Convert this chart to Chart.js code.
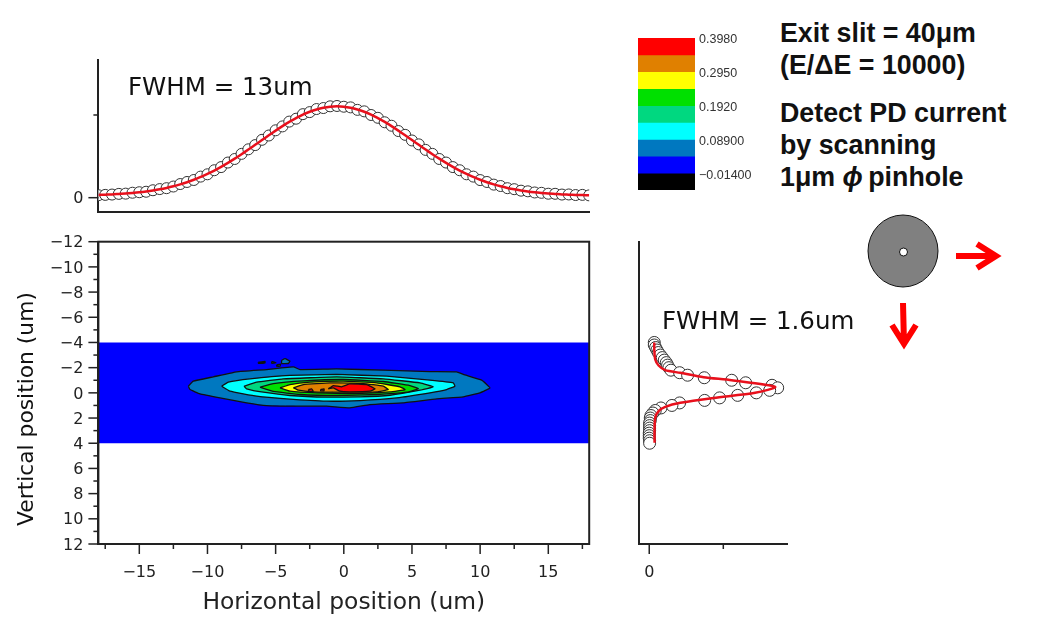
<!DOCTYPE html>
<html>
<head>
<meta charset="utf-8">
<script src="https://cdn.jsdelivr.net/npm/chart.js@4"></script>
<style>
  html, body { margin: 0; padding: 0; background: #fff; }
  body { width: 1040px; height: 635px; position: relative; overflow: hidden; }
  canvas { position: absolute; }
  .note { position: absolute; font-family: "Liberation Sans", Arial, sans-serif; color: #111; white-space: nowrap; }
  .big { font-size: 26.8px; font-weight: bold; line-height: 32px; }
  .fwhm { font-family: "DejaVu Sans", sans-serif; font-size: 24.5px; }
  #yTitle { left: 25px; top: 408.5px; font-family: "DejaVu Sans", sans-serif; font-size: 21.8px;
            transform: translate(-50%, -50%) rotate(-90deg); }
  svg { position: absolute; left: 0; top: 0; }
</style>
</head>
<body>
<canvas id="profileH" width="600" height="170" style="left:0;top:50px"></canvas>
<canvas id="contour" width="600" height="415" style="left:0;top:220px"></canvas>
<canvas id="profileV" width="180" height="360" style="left:620px;top:230px"></canvas>
<canvas id="colorBar" width="130" height="170" style="left:630px;top:30px"></canvas>

<div class="note fwhm" style="left:128px;top:72px">FWHM = 13um</div>
<div class="note fwhm" style="left:662px;top:306px">FWHM = 1.6um</div>
<div class="note" id="yTitle">Vertical position (um)</div>
<div class="note big" style="left:780px;top:17px">Exit slit = 40μm</div>
<div class="note big" style="left:780px;top:49px">(E/ΔE = 10000)</div>
<div class="note big" style="left:780px;top:97px">Detect PD current</div>
<div class="note big" style="left:780px;top:129px">by scanning</div>
<div class="note big" style="left:780px;top:161px">1μm <i>ϕ</i>&#8201;pinhole</div>

<!-- pinhole sketch -->
<svg width="1040" height="635">
  <ellipse cx="903" cy="251" rx="35" ry="36" fill="#808080" stroke="#111" stroke-width="1"/>
  <circle cx="903.5" cy="252" r="4" fill="#fff" stroke="#111" stroke-width="1"/>
  <path d="M956 256H996M977 244L996 256L977 268" fill="none" stroke="#f00" stroke-width="6" stroke-linejoin="miter"/>
  <path d="M903 303L904 344M892 325L904 344L916 325" fill="none" stroke="#f00" stroke-width="6" stroke-linejoin="miter"/>
</svg>

<script>
// ===== Data =====
const horizontalPos = [-18, -17.5, -17, -16.5, -16, -15.5, -15, -14.5, -14, -13.5, -13, -12.5, -12, -11.5, -11, -10.5, -10, -9.5, -9, -8.5, -8, -7.5, -7, -6.5, -6, -5.5, -5, -4.5, -4, -3.5, -3, -2.5, -2, -1.5, -1, -0.5, 0, 0.5, 1, 1.5, 2, 2.5, 3, 3.5, 4, 4.5, 5, 5.5, 6, 6.5, 7, 7.5, 8, 8.5, 9, 9.5, 10, 10.5, 11, 11.5, 12, 12.5, 13, 13.5, 14, 14.5, 15, 15.5, 16, 16.5, 17, 17.5, 18];
const horizontalMeasured = [0.030, 0.034, 0.038, 0.046, 0.049, 0.060, 0.066, 0.072, 0.090, 0.104, 0.115, 0.135, 0.165, 0.190, 0.214, 0.255, 0.283, 0.332, 0.370, 0.425, 0.468, 0.530, 0.585, 0.636, 0.700, 0.752, 0.815, 0.862, 0.920, 0.955, 1.010, 1.035, 1.072, 1.084, 1.105, 1.109, 1.100, 1.092, 1.062, 1.044, 1.000, 0.966, 0.912, 0.870, 0.806, 0.760, 0.692, 0.645, 0.578, 0.530, 0.468, 0.425, 0.370, 0.332, 0.283, 0.255, 0.213, 0.190, 0.158, 0.141, 0.115, 0.103, 0.085, 0.077, 0.063, 0.059, 0.048, 0.047, 0.038, 0.039, 0.032, 0.034, 0.028];
const horizontalFit = [0.034, 0.037, 0.040, 0.045, 0.050, 0.057, 0.065, 0.075, 0.087, 0.101, 0.118, 0.138, 0.161, 0.187, 0.217, 0.251, 0.287, 0.328, 0.373, 0.421, 0.472, 0.526, 0.582, 0.640, 0.697, 0.755, 0.811, 0.865, 0.916, 0.962, 1.005, 1.039, 1.067, 1.088, 1.101, 1.105, 1.101, 1.088, 1.067, 1.039, 1.005, 0.962, 0.916, 0.865, 0.811, 0.755, 0.697, 0.640, 0.582, 0.526, 0.472, 0.421, 0.373, 0.328, 0.287, 0.251, 0.217, 0.187, 0.161, 0.138, 0.118, 0.101, 0.087, 0.075, 0.065, 0.057, 0.050, 0.045, 0.040, 0.037, 0.034, 0.032, 0.030];

const verticalPos = [-4, -3.8, -3.6, -3.4, -3.2, -3, -2.8, -2.6, -2.4, -2.2, -2, -1.8, -1.6, -1.4, -1.2, -1, -0.8, -0.6, -0.4, -0.2, 0, 0.2, 0.4, 0.6, 0.8, 1, 1.2, 1.4, 1.6, 1.8, 2, 2.2, 2.4, 2.6, 2.8, 3, 3.2, 3.4, 3.6, 3.8, 4];
const verticalMeasured = [0.068, 0.068, 0.086, 0.104, 0.122, 0.149, 0.176, 0.203, 0.230, 0.248, 0.266, 0.293, 0.410, 0.518, 0.743, 1.113, 1.302, 1.658, 1.734, 1.626, 1.446, 1.194, 0.950, 0.748, 0.410, 0.306, 0.158, 0.081, 0.050, 0.023, 0.014, 0.014, 0.005, 0.005, 0.005, 0.005, 0, 0, 0, 0.005, 0.005];
const verticalFitPos = [-4, -3.44, -2.65, -2.17, -1.8, -1.59, -1.24, -1, -0.48, 0, 0.4, 0.79, 1.11, 1.45, 1.98, 2.91, 3.97];
const verticalFit = [0.068, 0.068, 0.081, 0.126, 0.216, 0.419, 0.734, 1.113, 1.7, 1.43, 0.87, 0.42, 0.216, 0.126, 0.081, 0.072, 0.072];

// contour outlines as [x, y] in um, lowest level first
const band = [[-18, -4], [18, -4], [18, 4], [-18, 4]];
const steelEdge = [[-11.4, -0.53], [-11.04, -0.93], [-9.57, -1.27], [-7.86, -1.67], [-5.66, -1.85], [-3.7, -2.06], [-3.21, -1.85], [-0.53, -1.9], [2.9, -1.8], [6.32, -1.69], [8.28, -1.67], [8.77, -1.46], [10.11, -1.01], [10.72, -0.4], [9.99, 0], [8.77, 0.32], [6.81, 0.48], [4.36, 0.79], [1.92, 0.93], [0.45, 1.19], [-1.26, 1.06], [-3.46, 1.06], [-5.66, 1.01], [-7.13, 0.79], [-9.08, 0.4], [-10.55, 0.08], [-11.28, -0.26]];
const steelIsland1 = [[-4.56, -2.59], [-4.31, -2.72], [-3.95, -2.51], [-4.07, -2.33], [-4.56, -2.33]];
const steelIsland2 = [[-6.27, -2.43], [-5.78, -2.49], [-5.78, -2.38], [-6.27, -2.35]];
const steelIsland3 = [[-5.29, -2.49], [-4.97, -2.38], [-5.29, -2.35]];
const steelIsland4 = [[-4.93, -2.22], [-4.63, -2.28], [-4.68, -2.12], [-4.93, -2.12]];
const cyanEdge = [[-8.96, -0.53], [-8.47, -0.85], [-6.88, -1.11], [-3.95, -1.38], [-0.53, -1.46], [3.14, -1.32], [6.32, -1.01], [8.03, -0.79], [8.15, -0.53], [7.54, -0.26], [6.32, 0], [3.88, 0.4], [1.19, 0.61], [-1.26, 0.66], [-4.19, 0.48], [-6.39, 0.26], [-8.35, -0.13]];
const seaEdge = [[-7.32, -0.53], [-6.39, -0.85], [-4.44, -1.11], [-0.53, -1.27], [2.9, -1.11], [5.59, -0.79], [6.57, -0.48], [5.59, -0.21], [3.39, 0.19], [1.19, 0.32], [-1.26, 0.34], [-3.95, 0.21], [-5.9, -0.05], [-7.13, -0.32]];
const greenEdge = [[-6.15, -0.45], [-5.17, -0.74], [-2.97, -0.95], [-0.04, -1.06], [2.9, -0.9], [4.85, -0.58], [5.47, -0.32], [4.61, -0.05], [2.41, 0.13], [-0.53, 0.21], [-3.21, 0.13], [-5.17, -0.11]];
const yellowEdge = [[-4.68, -0.4], [-3.95, -0.66], [-2.48, -0.85], [-0.04, -0.93], [2.41, -0.79], [4.12, -0.48], [4.49, -0.26], [3.39, -0.08], [0.94, 0.05], [-1.99, 0], [-3.95, -0.13]];
const orangeEdge = [[-3.7, -0.4], [-2.97, -0.66], [-1.01, -0.79], [1.43, -0.74], [2.9, -0.53], [3.26, -0.26], [2.41, -0.08], [-0.04, -0.05], [-2.24, -0.08], [-3.34, -0.21]];
const redEdge = [[-1.14, -0.32], [-0.77, -0.58], [-0.16, -0.48], [0.45, -0.71], [1.68, -0.66], [2.29, -0.32], [1.92, -0.13], [0.45, -0.08], [-0.28, -0.13], [-0.77, -0.4]];
const redSpot1 = [[-2.6, -0.26], [-2.36, -0.32], [-2.24, -0.13], [-2.53, -0.11]];
const redSpot2 = [[-1.7, -0.26], [-1.45, -0.32], [-1.45, -0.16], [-1.7, -0.16]];

// colour bar, top band first
const levelColors = ["#ff0000", "#e08000", "#ffff00", "#00e000", "#00d880", "#00ffff", "#0078c0", "#0000ff", "#000000"];
const levelEdges = [0.398, 0.3465, 0.295, 0.2435, 0.192, 0.1405, 0.089, 0.0375, -0.014, -0.0655];
const barTicks = [0.398, 0.295, 0.192, 0.089, -0.014];
const barLabels = ["0.3980", "0.2950", "0.1920", "0.08900", "\u22120.01400"];

const xTicks = [-17.5, -15, -12.5, -10, -7.5, -5, -2.5, 0, 2.5, 5, 7.5, 10, 12.5, 15, 17.5];
const xLabels = ["", "\u221215", "", "\u221210", "", "\u22125", "", "0", "", "5", "", "10", "", "15", ""];
const yTicks = [-12, -11, -10, -9, -8, -7, -6, -5, -4, -3, -2, -1, 0, 1, 2, 3, 4, 5, 6, 7, 8, 9, 10, 11, 12];
const yLabels = ["\u221212", "", "\u221210", "", "\u22128", "", "\u22126", "", "\u22124", "", "\u22122", "", "0", "", "2", "", "4", "", "6", "", "8", "", "10", "", "12"];
const profileTicks = [0, 1];
const profileLabels = ["0", ""];

// ===== Shared bits =====
const inkColor = "#222";
const tickFont = { family: "'DejaVu Sans', sans-serif", size: 16 };
Chart.defaults.animation = false;
Chart.defaults.responsive = false;
Chart.defaults.plugins.legend.display = false;
Chart.defaults.plugins.tooltip.enabled = false;

function setTicks(values) {
  return (scale) => { scale.ticks = values.map((value) => ({ value })); };
}

function labelFrom(values, labels) {
  return (value) => labels[values.indexOf(value)] || "";
}

// pins the axis box so the plot area lands where it should
function fixBox(size) {
  return (scale) => {
    if (scale.isHorizontal()) scale.height = size;
    else scale.width = size;
    scale.paddingTop = scale.paddingBottom = scale.paddingLeft = scale.paddingRight = 0;
  };
}

// labelled ticks are long, the others short
const tickMarks = {
  id: "tickMarks",
  afterDatasetsDraw(chart) {
    const ctx = chart.ctx;
    ctx.save();
    ctx.strokeStyle = inkColor;
    ctx.lineWidth = 1.5;
    Object.values(chart.scales).forEach((scale) => {
      scale.ticks.forEach((tick) => {
        const len = tick.label ? 10 : 5;
        const pos = scale.getPixelForValue(tick.value);
        ctx.beginPath();
        if (scale.isHorizontal()) {
          ctx.moveTo(pos, scale.top);
          ctx.lineTo(pos, scale.top + len);
        } else {
          ctx.moveTo(scale.right, pos);
          ctx.lineTo(scale.right - len, pos);
        }
        ctx.stroke();
      });
    });
    ctx.restore();
  }
};

// top and right edges of the contour map
const frame = {
  id: "frame",
  afterDatasetsDraw(chart) {
    const a = chart.chartArea;
    const ctx = chart.ctx;
    ctx.save();
    ctx.strokeStyle = inkColor;
    ctx.lineWidth = 2;
    ctx.strokeRect(a.left, a.top, a.right - a.left, a.bottom - a.top);
    ctx.restore();
  }
};

function axisBorder() {
  return { display: true, color: inkColor, width: 2 };
}

// ===== Horizontal profile =====
new Chart(document.getElementById("profileH"), {
  type: "scatter",
  data: {
    datasets: [
      {
        data: horizontalPos.map((x, i) => ({ x, y: horizontalFit[i] })),
        showLine: true, borderColor: "#e8101c", borderWidth: 2.5, pointRadius: 0, tension: 0.3, order: 1
      },
      {
        data: horizontalPos.map((x, i) => ({ x, y: horizontalMeasured[i] })),
        showLine: false, pointRadius: 5.5, pointBackgroundColor: "#fff", pointBorderColor: "#333", pointBorderWidth: 1, order: 2
      }
    ]
  },
  options: {
    layout: { padding: { top: 10, right: 10.8 } },
    scales: {
      x: {
        min: -18, max: 18, grid: { display: false }, border: axisBorder(),
        afterBuildTicks: setTicks([]), ticks: { display: false }, afterFit: fixBox(8.5)
      },
      y: {
        min: -0.167, max: 1.665, grid: { display: false, drawTicks: false }, border: axisBorder(),
        afterBuildTicks: setTicks(profileTicks),
        ticks: { color: inkColor, font: tickFont, padding: 15, labelOffset: 1.5, autoSkip: false, callback: labelFrom(profileTicks, profileLabels) },
        afterFit: fixBox(98.4)
      }
    }
  },
  plugins: [tickMarks]
});

// ===== Contour map =====
function outline(points, color) {
  return {
    data: points.concat([points[0]]).map((p) => ({ x: p[0], y: p[1] })),
    showLine: true, fill: "shape", backgroundColor: color, borderColor: "#111", borderWidth: 1.3, pointRadius: 0, tension: 0.1
  };
}

const contourLayers = [
  outline(steelEdge, levelColors[6]),
  outline(steelIsland1, levelColors[6]),
  outline(steelIsland2, levelColors[6]),
  outline(steelIsland3, levelColors[6]),
  outline(steelIsland4, levelColors[6]),
  outline(cyanEdge, levelColors[5]),
  outline(seaEdge, levelColors[4]),
  outline(greenEdge, levelColors[3]),
  outline(yellowEdge, levelColors[2]),
  outline(orangeEdge, levelColors[1]),
  outline(redEdge, levelColors[0]),
  outline(redSpot1, levelColors[0]),
  outline(redSpot2, levelColors[0])
];
const bandLayer = Object.assign(outline(band, levelColors[7]), { borderWidth: 0, tension: 0 });
const allLayers = [bandLayer].concat(contourLayers);
allLayers.forEach((layer, i) => { layer.order = allLayers.length - i; });

new Chart(document.getElementById("contour"), {
  type: "scatter",
  data: { datasets: allLayers },
  options: {
    layout: { padding: { top: 21.7, right: 10.8 } },
    scales: {
      x: {
        min: -18, max: 18, grid: { display: false, drawTicks: false }, border: axisBorder(),
        afterBuildTicks: setTicks(xTicks),
        ticks: { color: inkColor, font: tickFont, padding: 19, maxRotation: 0, autoSkip: false, callback: labelFrom(xTicks, xLabels) },
        title: { display: true, text: "Horizontal position (um)", color: inkColor, font: { family: "'DejaVu Sans', sans-serif", size: 23.4 }, padding: { top: 0, bottom: 18 } },
        afterFit: fixBox(91)
      },
      y: {
        reverse: true, min: -12, max: 12, grid: { display: false, drawTicks: false }, border: axisBorder(),
        afterBuildTicks: setTicks(yTicks),
        ticks: { color: inkColor, font: tickFont, padding: 15, labelOffset: 1.5, autoSkip: false, callback: labelFrom(yTicks, yLabels) },
        afterFit: fixBox(98.4)
      }
    }
  },
  plugins: [frame, tickMarks]
});

// ===== Vertical profile =====
new Chart(document.getElementById("profileV"), {
  type: "scatter",
  data: {
    datasets: [
      {
        data: verticalFitPos.map((y, i) => ({ x: verticalFit[i], y })),
        showLine: true, borderColor: "#e8101c", borderWidth: 2.5, pointRadius: 0, tension: 0.25, order: 1
      },
      {
        data: verticalPos.map((y, i) => ({ x: verticalMeasured[i], y })),
        showLine: false, pointRadius: 6, pointBackgroundColor: "#fff", pointBorderColor: "#333", pointBorderWidth: 1, order: 2
      }
    ]
  },
  options: {
    layout: { padding: { top: 11.7, right: 13 } },
    scales: {
      x: {
        min: -0.145, max: 1.86, grid: { display: false, drawTicks: false }, border: axisBorder(),
        afterBuildTicks: setTicks(profileTicks),
        ticks: { color: inkColor, font: tickFont, padding: 19, maxRotation: 0, autoSkip: false, callback: labelFrom(profileTicks, profileLabels) },
        afterFit: fixBox(46)
      },
      y: {
        reverse: true, min: -12, max: 12, grid: { display: false }, border: axisBorder(),
        afterBuildTicks: setTicks([]), ticks: { display: false },
        afterFit: fixBox(18.5)
      }
    }
  },
  plugins: [tickMarks]
});

// ===== Colour bar =====
new Chart(document.getElementById("colorBar"), {
  type: "bar",
  data: {
    labels: ["level"],
    datasets: levelColors.map((color, i) => ({
      data: [[levelEdges[i + 1], levelEdges[i]]],
      backgroundColor: color, borderWidth: 0, barPercentage: 1, categoryPercentage: 1, grouped: false
    }))
  },
  options: {
    layout: { padding: { left: 8, top: 8, right: 0, bottom: 10 } },
    scales: {
      x: { display: false },
      y: {
        position: "right", min: -0.0655, max: 0.398,
        grid: { display: false, drawTicks: false }, border: { display: false },
        afterBuildTicks: setTicks(barTicks),
        ticks: { color: "#333", font: { family: "'Liberation Sans', Arial, sans-serif", size: 12.5 }, padding: 4, labelOffset: 2, autoSkip: false, callback: labelFrom(barTicks, barLabels) },
        afterFit: fixBox(65)
      }
    }
  }
});
</script>
</body>
</html>
